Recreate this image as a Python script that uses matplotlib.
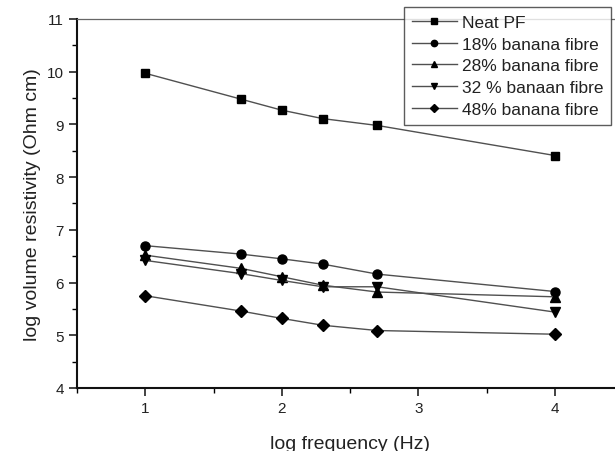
import matplotlib
matplotlib.use("Agg")
import matplotlib.pyplot as plt
from matplotlib.ticker import MultipleLocator

plt.rcParams['font.family'] = ['Liberation Sans', 'DejaVu Sans']

log_freq = [1.0, 1.7, 2.0, 2.3, 2.7, 4.0]
neat_pf = [9.97, 9.48, 9.27, 9.11, 8.98, 8.41]
fibre_18 = [6.70, 6.54, 6.45, 6.35, 6.16, 5.83]
fibre_28 = [6.52, 6.27, 6.11, 5.95, 5.82, 5.73]
fibre_32 = [6.42, 6.17, 6.04, 5.92, 5.92, 5.44]
fibre_48 = [5.75, 5.46, 5.32, 5.19, 5.09, 5.02]

labels = ["Neat PF", "18% banana fibre", "28% banana fibre",
          "32 % banaan fibre", "48% banana fibre"]
series = [neat_pf, fibre_18, fibre_28, fibre_32, fibre_48]
markers = ["s", "o", "^", "v", "D"]
msizes = [6, 6.5, 7, 7, 6]

fig = plt.figure(figsize=(6.15, 4.52), dpi=100)
ax = fig.add_axes([0.1252, 0.1394, 0.888, 0.8164])

for ys, lab, m, ms in zip(series, labels, markers, msizes):
    ax.plot(log_freq, ys, color="#505050", lw=1.0, marker=m, ms=ms,
            mfc="black", mec="black", label=lab)

ax.set_xlim(0.5, 4.5)
ax.set_ylim(4, 11)
ax.xaxis.set_major_locator(MultipleLocator(1))
ax.xaxis.set_minor_locator(MultipleLocator(0.5))
ax.yaxis.set_major_locator(MultipleLocator(1))
ax.yaxis.set_minor_locator(MultipleLocator(0.5))
ax.tick_params(which="major", direction="out", length=6, width=1.2,
               labelsize=11, colors="#222222")
ax.tick_params(which="minor", direction="out", length=3.5, width=1.0)
ax.tick_params(axis="x", which="both", top=False)
ax.tick_params(axis="y", which="both", right=False)

for s in ("left", "bottom"):
    ax.spines[s].set_linewidth(1.5)
    ax.spines[s].set_color("#111111")
ax.spines["top"].set_linewidth(0.9)
ax.spines["top"].set_color("#666666")
ax.spines["right"].set_visible(False)

ax.set_xlabel("log frequency (Hz)", fontsize=14, color="#222222", labelpad=14)
ax.set_ylabel("log volume resistivity (Ohm cm)", fontsize=14, color="#222222",
              labelpad=4)

leg = fig.legend(loc="upper left", bbox_to_anchor=(404 / 615, 1 - 8 / 452),
                 bbox_transform=fig.transFigure, fontsize=12.5,
                 frameon=True, fancybox=False, handlelength=2.6,
                 handletextpad=0.3, labelspacing=0.38, borderpad=0.45,
                 borderaxespad=0, markerscale=0.7)
leg.get_frame().set_edgecolor("#333333")
leg.get_frame().set_linewidth(1.0)
for t in leg.get_texts():
    t.set_color("#222222")

fig.savefig("out.png", dpi=100)
